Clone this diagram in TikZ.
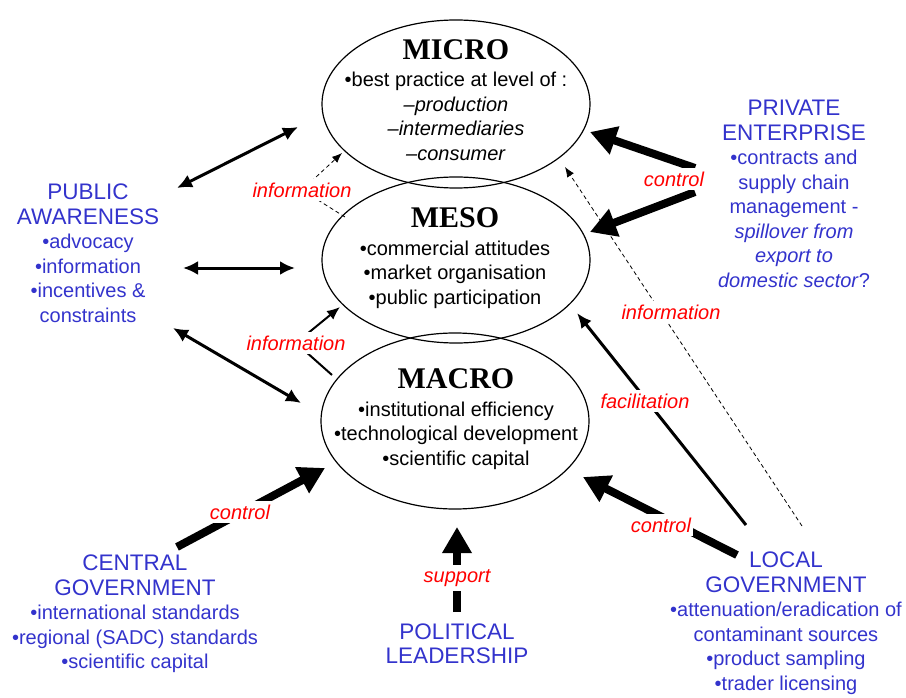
\documentclass[tikz,border=0pt]{standalone}
\usepackage{fontspec}
\setmainfont{Liberation Sans}
\newfontfamily\levelfont{Liberation Serif}
\usepackage{xcolor}
\usepackage{tikz}
\usetikzlibrary{arrows.meta,shapes.geometric}
\definecolor{cActor}{HTML}{3333CC}
\definecolor{cLink}{HTML}{FF0000}
\tikzset{
  level/.style   ={draw, ellipse, line width=1.2pt, minimum width=268pt, inner sep=0pt},
  leveltxt/.style={align=center, font=\fontsize{20}{24.5}\selectfont},
  actor/.style   ={align=center, text=cActor, font=\fontsize{20}{24.5}\selectfont},
  link/.style    ={fill=white, text=cLink, inner xsep=2pt, inner ysep=4pt, font=\fontsize{20}{24}\selectfont\itshape},
  twoway/.style  ={{Latex[length=15pt,width=14pt]}-{Latex[length=15pt,width=14pt]}, line width=3pt},
  ctrl/.style    ={-{Triangle[length=26pt,width=28pt]}, line width=8pt},
  info/.style    ={-{Latex[length=13pt,width=11pt]}, line width=2pt},
  infodash/.style={-{Latex[length=10pt,width=8pt]}, line width=0.8pt, dash pattern=on 4pt off 3pt},
  facil/.style   ={-{Latex[length=15pt,width=13pt]}, line width=3pt},
}
\newcommand{\levelname}[1]{{\levelfont\bfseries\fontsize{30}{30}\selectfont #1}}
\newcommand{\actorname}[1]{{\fontsize{22.5}{27}\selectfont #1}}

\begin{document}
\begin{tikzpicture}[x=1pt,y=-1pt]
  \useasboundingbox (0,0) rectangle (906,698);
  \node[level, minimum height=168pt] (micro) at (456,104) {};
  \node[level, minimum height=166pt] (meso) at (456,260) {};
  \node[level, minimum height=176pt] (macro) at (455,421) {};

  \node[leveltxt] (microtxt) at (456,100) {\levelname{MICRO}\\[3pt]\textbullet best practice at level of :\\\textit{--production}\\\textit{--intermediaries}\\\textit{--consumer}};
  \node[leveltxt] (mesotxt) at (455,258) {\levelname{MESO}\\[3pt]\textbullet commercial attitudes\\\textbullet market organisation\\\textbullet public participation};
  \node[leveltxt] (macrotxt) at (456,419) {\levelname{MACRO}\\[3pt]\textbullet institutional efficiency\\\textbullet technological development\\\textbullet scientific capital};

  \node[actor] (public) at (88,253) {\actorname{PUBLIC}\\\actorname{AWARENESS}\\\textbullet advocacy\\\textbullet information\\\textbullet incentives \&\\constraints};
  \node[actor] (private) at (794,194) {\actorname{PRIVATE}\\\actorname{ENTERPRISE}\\\textbullet contracts and\\supply chain\\management -\\\textit{spillover from}\\\textit{export to}\\\textit{domestic sector}?};
  \node[actor] (central) at (135,614) {\actorname{CENTRAL}\\\actorname{GOVERNMENT}\\\textbullet international standards\\\textbullet regional (SADC) standards\\\textbullet scientific capital};
  \node[actor] (political) at (457,644) {\actorname{POLITICAL}\\\actorname{LEADERSHIP}};
  \node[actor] (local) at (786,623) {\actorname{LOCAL}\\\actorname{GOVERNMENT}\\\textbullet attenuation/eradication of\\contaminant sources\\\textbullet product sampling\\\textbullet trader licensing};

  \coordinate (pubA) at (177,188);  \coordinate (microW) at (298,127);
  \coordinate (pubB) at (183,268);  \coordinate (mesoW) at (295,268);
  \coordinate (pubC) at (173,328);  \coordinate (macroW) at (301,403);
  \coordinate (infoAc) at (302,190); \coordinate (mesoNW) at (345,217); \coordinate (microSW) at (342,153);
  \coordinate (infoBc) at (296,343); \coordinate (macroNW) at (332,375); \coordinate (mesoSW) at (340,307);
  \coordinate (peA) at (695,168);   \coordinate (microE) at (590,132);
  \coordinate (peB) at (695,192);   \coordinate (mesoE) at (590,232);
  \coordinate (lgA) at (802,526);   \coordinate (microSE) at (565,167);
  \coordinate (lgB) at (746,525);   \coordinate (mesoSE) at (577,313);
  \coordinate (lgC) at (737,555);   \coordinate (macroE) at (583,477);
  \coordinate (cgA) at (177,547);   \coordinate (macroSW) at (325,468);
  \coordinate (plA) at (457,612);   \coordinate (macroS) at (457,527);

  \draw[twoway] (pubA) -- (microW);
  \draw[twoway] (pubB) -- (mesoW);
  \draw[twoway] (pubC) -- (macroW);
  \draw[infodash] (mesoNW) -- (infoAc) -- (microSW);
  \draw[info] (macroNW) -- (infoBc) -- (mesoSW);
  \draw[ctrl] (peA) -- (microE);
  \draw[ctrl] (peB) -- (mesoE);
  \draw[infodash] (lgA) -- (microSE);
  \draw[facil] (lgB) -- (mesoSE);
  \draw[ctrl] (lgC) -- (macroE);
  \draw[ctrl] (cgA) -- (macroSW);
  \draw[ctrl] (plA) -- (macroS);

  \node[link] (infoA) at (infoAc) {information};
  \node[link] (infoB) at (infoBc) {information};
  \node[link] (ctrlPE) at (674,179) {control};
  \node[link] (infoLG) at (671,312) {information};
  \node[link] (facLG) at (645,401) {facilitation};
  \node[link] (ctrlLG) at (661,525) {control};
  \node[link] (ctrlCG) at (240,512) {control};
  \node[link] (suppPL) at (457,578) {support};
\end{tikzpicture}
\end{document}
